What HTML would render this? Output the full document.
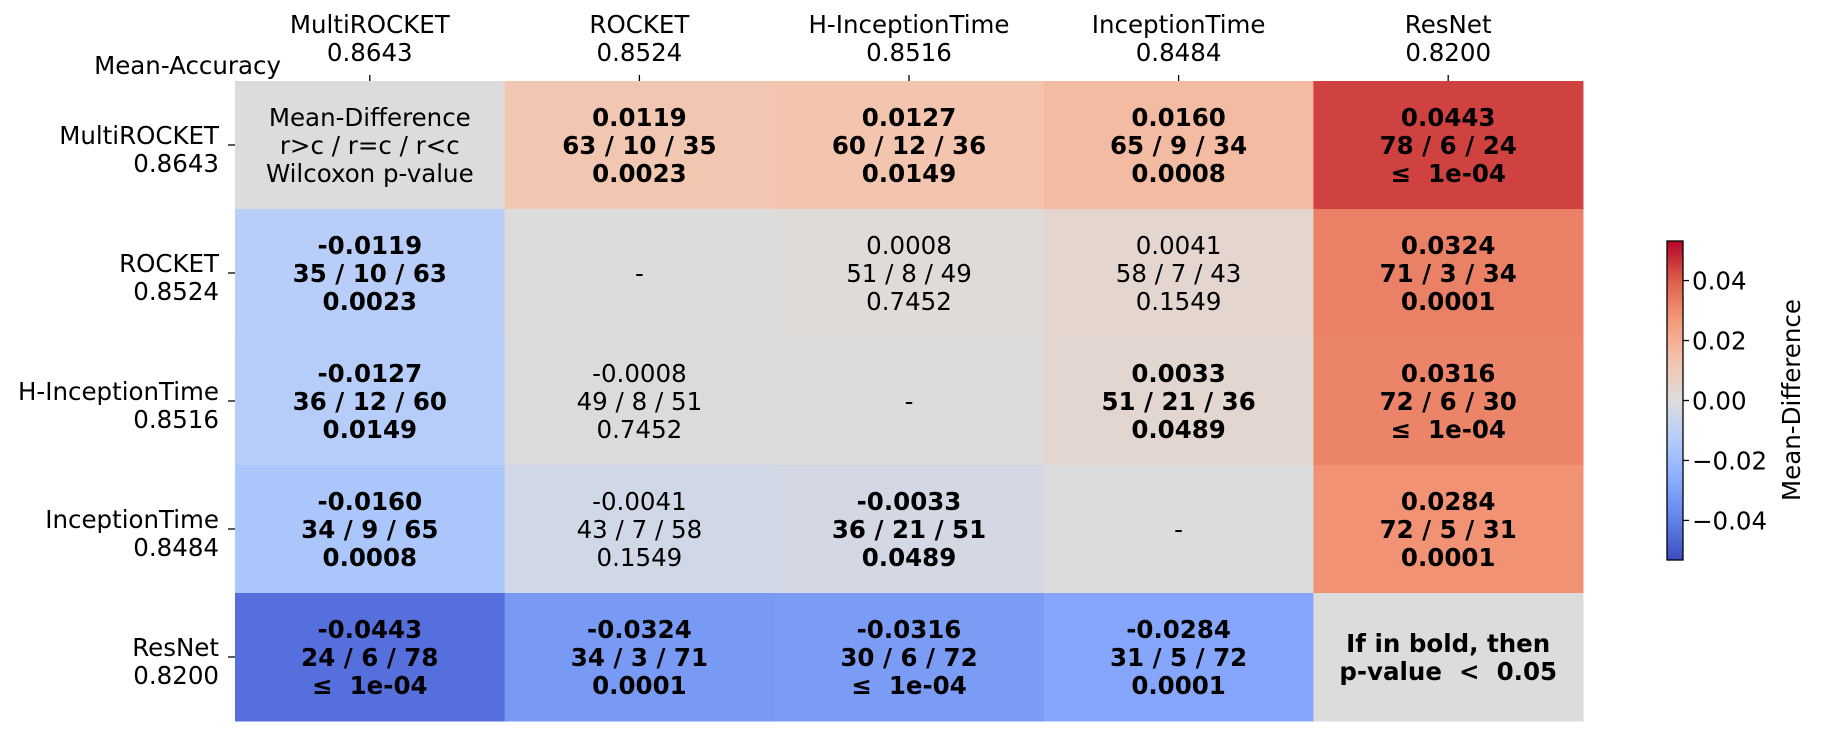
<!DOCTYPE html>
<html><head><meta charset="utf-8"><style>
html,body{margin:0;padding:0;background:#fff;}
svg{display:block;font-family:"DejaVu Sans","Liberation Sans",sans-serif;}
text{white-space:pre;}
</style></head><body>
<svg id="chart" width="1822" height="735" xmlns="http://www.w3.org/2000/svg" xml:space="preserve">
<defs><linearGradient id="cbg" x1="0" y1="1" x2="0" y2="0"></linearGradient></defs>
<g id="cells"></g>
<g id="labels"></g>
<g id="cbar"></g>
</svg>
<script>
const names = ["MultiROCKET","ROCKET","H-InceptionTime","InceptionTime","ResNet"];
const accs = ["0.8643","0.8524","0.8516","0.8484","0.8200"];
const meanDiff = [
 [0, 0.0119, 0.0127, 0.0160, 0.0443],
 [-0.0119, 0, 0.0008, 0.0041, 0.0324],
 [-0.0127, -0.0008, 0, 0.0033, 0.0316],
 [-0.0160, -0.0041, -0.0033, 0, 0.0284],
 [-0.0443, -0.0324, -0.0316, -0.0284, 0]
];
const wtl = [
 ["", "63 / 10 / 35", "60 / 12 / 36", "65 / 9 / 34", "78 / 6 / 24"],
 ["35 / 10 / 63", "", "51 / 8 / 49", "58 / 7 / 43", "71 / 3 / 34"],
 ["36 / 12 / 60", "49 / 8 / 51", "", "51 / 21 / 36", "72 / 6 / 30"],
 ["34 / 9 / 65", "43 / 7 / 58", "36 / 21 / 51", "", "72 / 5 / 31"],
 ["24 / 6 / 78", "34 / 3 / 71", "30 / 6 / 72", "31 / 5 / 72", ""]
];
const pvals = [
 [null, 0.0023, 0.0149, 0.0008, 0.00001],
 [0.0023, null, 0.7452, 0.1549, 0.0001],
 [0.0149, 0.7452, null, 0.0489, 0.00001],
 [0.0008, 0.1549, 0.0489, null, 0.0001],
 [0.00001, 0.0001, 0.00001, 0.0001, null]
];
const cbTicks = [0.04, 0.02, 0.00, -0.02, -0.04];
const cbTickLabels = ["0.04","0.02","0.00","\u22120.02","\u22120.04"];

const NS="http://www.w3.org/2000/svg";
const X0=235, X1=1583, Y0=81, Y1=721, N=names.length;
const cw=(X1-X0)/N, ch=(Y1-Y0)/N;
const vmax=0.0532;
const FS='24.5';
const cmap=[[0,59,76,192],[0.125,98,130,234],[0.25,138,172,252],[0.375,180,204,251],[0.5,221,220,220],[0.625,244,196,173],[0.75,244,154,123],[0.875,222,96,77],[1,180,4,38]];
function color(v){
  let t=Math.max(0,Math.min(1,(v/vmax+1)/2));
  for(let i=0;i<cmap.length-1;i++){const a=cmap[i],b=cmap[i+1];
    if(t<=b[0]){const f=(t-a[0])/(b[0]-a[0]);
      return `rgb(${[1,2,3].map(k=>Math.round(a[k]+f*(b[k]-a[k]))).join(',')})`;}}
  return 'rgb(180,4,38)';
}
function el(tag,attrs,parent,txt){const e=document.createElementNS(NS,tag);for(const k in attrs)e.setAttribute(k,attrs[k]);if(txt!==undefined)e.textContent=txt;parent.appendChild(e);return e;}
const gC=document.getElementById('cells'), gL=document.getElementById('labels'), gB=document.getElementById('cbar');
function fmtP(p){return p<0.0001?"\u2264  1e-04":p.toFixed(4);}
function lines(cx,cy,arr,bold,parent){
  const base=arr.length===3?[-28,0,28]:arr.length===2?[-14,14]:[0];
  arr.forEach((s,i)=>{const t=el('text',{x:cx,y:cy+base[i]+9,'text-anchor':'middle','font-size':FS,'font-weight':bold?'bold':'normal',fill:'#000'},parent,s);
    
    });
}
for(let r=0;r<N;r++)for(let c=0;c<N;c++){
  const x=X0+c*cw,y=Y0+r*ch;
  const rc=el('rect',{x:x,y:y,width:cw+0.5,height:ch+0.5,fill:color(meanDiff[r][c])},gC);
  
  
  const cx=x+cw/2, cy=y+ch/2;
  if(r===c){
    if(r===0) lines(cx,cy,["Mean-Difference","r>c / r=c / r<c","Wilcoxon p-value"],false,gC);
    else if(r===N-1) lines(cx,cy,["If in bold, then","p-value  <  0.05"],true,gC);
    else lines(cx,cy,["-"],false,gC);
  } else {
    const p=pvals[r][c];
    const md=meanDiff[r][c];
    const s=(md<0?"-":"")+Math.abs(md).toFixed(4);
    lines(cx,cy,[s,wtl[r][c],fmtP(p)],p<0.05,gC);
  }
}
for(let i=0;i<N;i++){
  const cx=X0+(i+0.5)*cw, cy=Y0+(i+0.5)*ch;
  let t=el('text',{x:cx,y:33,'text-anchor':'middle','font-size':FS},gL,names[i]);
   
  t=el('text',{x:cx,y:61,'text-anchor':'middle','font-size':FS},gL,accs[i]);
   
  el('line',{x1:cx,x2:cx,y1:75,y2:81,stroke:'#000','stroke-width':1.3},gL);
  t=el('text',{x:219,y:cy-1,'text-anchor':'end','font-size':FS},gL,names[i]);
   
  t=el('text',{x:219,y:cy+27,'text-anchor':'end','font-size':FS},gL,accs[i]);
   
  el('line',{x1:228,x2:235,y1:cy,y2:cy,stroke:'#000','stroke-width':1.3},gL);
}
const ma=el('text',{x:281,y:74,'text-anchor':'end','font-size':FS},gL,"Mean-Accuracy");
 
const CB0=241, CB1=560, CBX=1667, CBW=16;
const grad=document.getElementById('cbg');
for(let i=0;i<=20;i++){const v=-vmax+2*vmax*i/20;el('stop',{offset:(i/20),'stop-color':color(v)},grad);}
function cyv(v){return (CB0+CB1)/2 - v/vmax*(CB1-CB0)/2;}
const cbr=el('rect',{x:CBX,y:CB0,width:CBW,height:CB1-CB0,fill:'url(#cbg)',stroke:'#000','stroke-width':1.3},gB);
 
cbTicks.forEach((v,i)=>{const y=cyv(v);
  el('line',{x1:CBX+CBW,x2:CBX+CBW+6,y1:y,y2:y,stroke:'#000','stroke-width':1.3},gB);
  const t=el('text',{x:CBX+CBW+9,y:y+9,'font-size':FS},gB,cbTickLabels[i]);
   
});
const cl=el('text',{x:1800,y:400,'text-anchor':'middle','font-size':FS,transform:'rotate(-90 1800 400)'},gB,"Mean-Difference");
 
</script>
</body></html>
